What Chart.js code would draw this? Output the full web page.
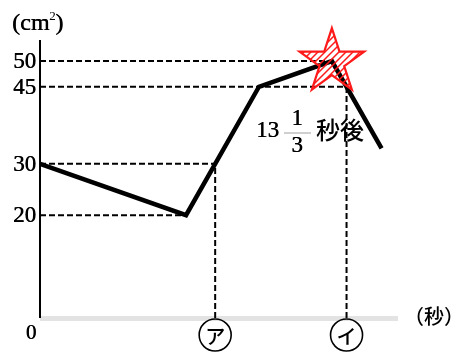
<!DOCTYPE html>
<html><head><meta charset="utf-8">
<script src="https://cdn.jsdelivr.net/npm/chart.js@4/dist/chart.umd.min.js"></script>
<style>html,body{margin:0;padding:0;background:#fff}#c{display:block}</style>
</head><body>
<canvas id="c" width="463" height="355"></canvas>
<script>
// time (seconds) and area (cm²) of the graph's vertices
const timeSec = [0, 6.67, 10, 13.33, 15.6];
const areaCm2 = [30, 20, 45, 50, 33];
// labelled values on the vertical axis
const yTickLabels = [50, 45, 30, 20];
// marked times on the horizontal axis
const markTimes = [8, 14];
const markLabels = ['ア', 'イ'];
const markLevels = [30, 45];
const peakTime = 13.33, peakArea = 50;
const answerWhole = '13', answerNum = '1', answerDen = '3', answerUnit = '秒後';

const mainData = timeSec.map((t, i) => ({x: t, y: areaCm2[i]}));
const guide = (pts) => ({
  data: pts, borderColor: '#000', borderWidth: 2, borderDash: [6, 3],
  pointRadius: 0, fill: false, tension: 0, order: 2
});
const guides = [
  guide([{x: 0, y: 50}, {x: peakTime, y: 50}]),
  guide([{x: 0, y: 45}, {x: markTimes[1], y: 45}]),
  guide([{x: 0, y: 30}, {x: markTimes[0], y: 30}]),
  guide([{x: 0, y: 20}, {x: timeSec[1], y: 20}]),
  guide([{x: markTimes[0], y: 0}, {x: markTimes[0], y: markLevels[0]}]),
  guide([{x: markTimes[1], y: 0}, {x: markTimes[1], y: markLevels[1]}])
];

function boldText(ctx, s, px, py) {
  ctx.fillText(s, px, py);
  ctx.fillText(s, px + 0.5, py);
}

const deco = {
  id: 'deco',
  beforeDatasetsDraw(chart) {
    const {ctx, chartArea: a, scales: {x, y}} = chart;
    ctx.save();
    ctx.fillStyle = '#e3e3e3';
    ctx.fillRect(a.left, y.getPixelForValue(0) - 2, a.right - a.left, 5);
    ctx.strokeStyle = '#000'; ctx.lineWidth = 2;
    ctx.beginPath();
    ctx.moveTo(a.left, a.top); ctx.lineTo(a.left, y.getPixelForValue(0));
    ctx.stroke();
    ctx.restore();
  },
  afterDatasetsDraw(chart) {
    const {ctx, chartArea: a, scales: {x, y}} = chart;
    ctx.save();
    ctx.fillStyle = '#000';
    ctx.font = '23px "Liberation Serif"';
    ctx.textAlign = 'right'; ctx.textBaseline = 'middle';
    yTickLabels.forEach(v => boldText(ctx, String(v), a.left - 4, y.getPixelForValue(v) + 1));
    ctx.textAlign = 'center';
    ctx.font = '21px "Liberation Serif"';
    boldText(ctx, '0', a.left - 9, y.getPixelForValue(0) + 15);
    ctx.textAlign = 'left'; ctx.textBaseline = 'alphabetic';
    ctx.font = '24px "Liberation Serif"';
    boldText(ctx, '(cm', 12, 30);
    const w1 = ctx.measureText('(cm').width;
    ctx.font = '13px "Liberation Serif"';
    ctx.fillText('2', 12 + w1, 20);
    ctx.font = '24px "Liberation Serif"';
    boldText(ctx, ')', 12 + w1 + 6, 30);
    ctx.font = '500 20px "Noto Sans CJK JP"';
    ctx.textBaseline = 'middle';
    ctx.fillText('（秒）', 404, y.getPixelForValue(0) - 2);
    markTimes.forEach((t, i) => {
      const cx = x.getPixelForValue(t), cy = y.getPixelForValue(0) + 17;
      ctx.beginPath(); ctx.lineWidth = 1.6; ctx.strokeStyle = '#000';
      ctx.arc(cx, cy, 16, 0, Math.PI * 2); ctx.stroke();
      ctx.font = '500 20px "Noto Sans CJK JP"';
      ctx.textAlign = 'center'; ctx.textBaseline = 'middle';
      ctx.fillText(markLabels[i], cx, cy + 1);
    });
    const sx = x.getPixelForValue(peakTime), sy = y.getPixelForValue(peakArea) + 1;
    const R = 34, r = R * 0.382;
    ctx.beginPath();
    for (let k = 0; k < 10; k++) {
      const ang = -Math.PI / 2 + k * Math.PI / 5;
      const rr = k % 2 ? r : R;
      const px = sx + rr * Math.cos(ang), py = sy + rr * Math.sin(ang);
      k ? ctx.lineTo(px, py) : ctx.moveTo(px, py);
    }
    ctx.closePath();
    ctx.strokeStyle = '#ff1a1a'; ctx.lineWidth = 2.2;
    ctx.stroke();
    ctx.save(); ctx.clip();
    ctx.lineWidth = 1.5;
    for (let d = -80; d < 80; d += 7) {
      ctx.beginPath();
      ctx.moveTo(sx + d - 40, sy + 40); ctx.lineTo(sx + d + 40, sy - 40);
      ctx.stroke();
    }
    ctx.restore();
    ctx.fillStyle = '#000';
    ctx.font = '23px "Liberation Serif"';
    ctx.textAlign = 'left'; ctx.textBaseline = 'middle';
    boldText(ctx, answerWhole, 256, 131);
    ctx.textAlign = 'center';
    boldText(ctx, answerNum, 297, 119);
    boldText(ctx, answerDen, 297, 146);
    ctx.fillStyle = '#cfcfcf';
    ctx.fillRect(284, 132, 27, 2);
    ctx.fillStyle = '#000';
    ctx.font = '500 24px "Noto Sans CJK JP"';
    ctx.textAlign = 'left';
    ctx.fillText(answerUnit, 316, 130);
    ctx.restore();
  }
};

new Chart(document.getElementById('c'), {
  type: 'line',
  data: {
    datasets: [
      {data: mainData, borderColor: '#000', borderWidth: 4.5, pointRadius: 0,
       fill: false, tension: 0, borderJoinStyle: 'miter', order: 1},
      ...guides
    ]
  },
  options: {
    responsive: false, animation: false, devicePixelRatio: 1,
    layout: {padding: {left: 40, right: 65, top: 40, bottom: 37}},
    plugins: {legend: {display: false}, tooltip: {enabled: false}},
    scales: {
      x: {type: 'linear', min: 0, max: 16.35, display: false},
      y: {type: 'linear', min: 0, max: 54.1, display: false}
    }
  },
  plugins: [deco]
});
</script>
</body></html>
